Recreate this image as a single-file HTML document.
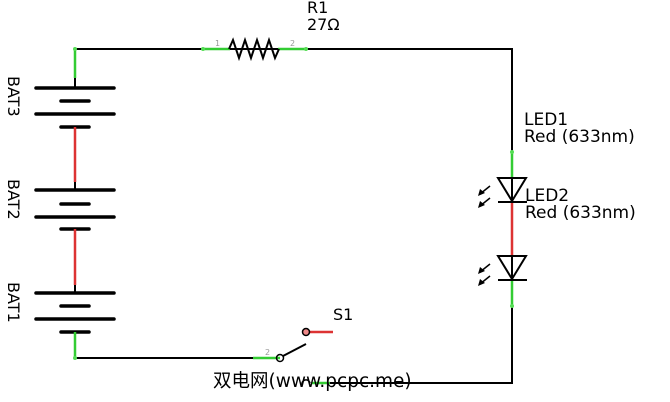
<!DOCTYPE html>
<html><head><meta charset="utf-8"><style>
html,body{margin:0;padding:0;background:#fff;width:670px;height:402px;overflow:hidden}
svg{display:block}
text{font-family:"DejaVu Sans","Liberation Sans",sans-serif}
</style></head><body>
<svg width="670" height="402" viewBox="0 0 670 402" xmlns="http://www.w3.org/2000/svg">
<g stroke="#000" stroke-width="2" fill="none">
<polyline points="75,49 512,49 512,383 330,383"/>
<polyline points="75,358 280,358"/>
</g>
<line x1="203" y1="49" x2="230" y2="49" stroke="#3c3" stroke-width="2.5"/>
<line x1="278" y1="49" x2="306" y2="49" stroke="#3c3" stroke-width="2.5"/>
<polyline points="229,49 233,40 239,58 245,40 251,58 257,40 263,58 269,40 275,58 279,49" stroke="#000" stroke-width="2" fill="none"/>
<circle cx="203" cy="49" r="2" fill="#5d5"/><circle cx="306" cy="49" r="2" fill="#5d5"/>
<text x="215" y="46" font-size="8" fill="#999">1</text>
<text x="290" y="46" font-size="8" fill="#999">2</text>
<text x="307" y="13" font-size="16">R1</text>
<text x="307" y="30" font-size="16">27Ω</text>
<g stroke="#000" stroke-width="3.5" stroke-linecap="round">
<line x1="36" y1="88" x2="114" y2="88"/><line x1="61" y1="101" x2="89" y2="101"/><line x1="36" y1="114" x2="114" y2="114"/><line x1="61" y1="127" x2="89" y2="127"/>
<line x1="36" y1="190" x2="114" y2="190"/><line x1="61" y1="204" x2="89" y2="204"/><line x1="36" y1="217" x2="114" y2="217"/><line x1="61" y1="229" x2="89" y2="229"/>
<line x1="36" y1="293" x2="114" y2="293"/><line x1="61" y1="306" x2="89" y2="306"/><line x1="36" y1="319" x2="114" y2="319"/><line x1="61" y1="332" x2="89" y2="332"/>
</g>
<g stroke-width="2.5">
<line x1="75" y1="49" x2="75" y2="78" stroke="#3c3"/>
<line x1="75" y1="78" x2="75" y2="88" stroke="#000" stroke-width="2"/>
<line x1="75" y1="127" x2="75" y2="182" stroke="#d33"/>
<line x1="75" y1="182" x2="75" y2="190" stroke="#000" stroke-width="2"/>
<line x1="75" y1="229" x2="75" y2="285" stroke="#d33"/>
<line x1="75" y1="285" x2="75" y2="293" stroke="#000" stroke-width="2"/>
<line x1="75" y1="332" x2="75" y2="358" stroke="#3c3"/>
</g>
<circle cx="75" cy="49" r="2" fill="#5d5"/><circle cx="75" cy="358" r="2" fill="#5d5"/>
<text font-size="16" transform="translate(8,76) rotate(90)">BAT3</text>
<text font-size="16" transform="translate(8,179) rotate(90)">BAT2</text>
<text font-size="16" transform="translate(8,282) rotate(90)">BAT1</text>
<line x1="512" y1="152" x2="512" y2="178" stroke="#3c3" stroke-width="2.5"/>
<line x1="512" y1="202" x2="512" y2="255" stroke="#d33" stroke-width="2.5"/>
<line x1="512" y1="280" x2="512" y2="306" stroke="#3c3" stroke-width="2.5"/>
<circle cx="512" cy="152" r="2" fill="#5d5"/><circle cx="512" cy="306" r="2" fill="#5d5"/>
<g stroke="#000" stroke-width="2" fill="none">
<polygon points="498,178 526,178 512,201"/><line x1="498" y1="202" x2="527" y2="202"/>
<polygon points="498,256 526,256 512,279"/><line x1="498" y1="280" x2="527" y2="280"/>
<g stroke-width="1.5">
<line x1="490" y1="186" x2="480" y2="194"/><line x1="490" y1="198" x2="480" y2="206"/>
<line x1="490" y1="264" x2="480" y2="272"/><line x1="490" y1="276" x2="480" y2="284"/>
</g>
</g>
<g fill="#000">
<polygon points="478,196 480,189 485,193"/><polygon points="478,208 480,201 485,205"/>
<polygon points="478,274 480,267 485,271"/><polygon points="478,286 480,279 485,283"/>
</g>
<text x="524" y="125" font-size="17">LED1</text>
<text x="524" y="142" font-size="17">Red (633nm)</text>
<text x="525" y="201" font-size="17">LED2</text>
<text x="525" y="218" font-size="17">Red (633nm)</text>
<line x1="253" y1="358" x2="280" y2="358" stroke="#3c3" stroke-width="2.5"/>
<line x1="306" y1="332" x2="333" y2="332" stroke="#d33" stroke-width="2.5"/>
<line x1="312" y1="383" x2="330" y2="383" stroke="#3c3" stroke-width="2.5"/>
<line x1="283" y1="356" x2="306" y2="344" stroke="#000" stroke-width="2"/>
<circle cx="280" cy="358" r="3.5" fill="none" stroke="#000" stroke-width="1.5"/>
<circle cx="306" cy="332" r="3.5" fill="#e88" stroke="#000" stroke-width="1.5"/>
<path d="M302,385 a4,4 0 0 1 8,-2" stroke="#000" stroke-width="1.5" fill="none"/>
<text x="333" y="320" font-size="16">S1</text>
<text x="265" y="355" font-size="8" fill="#999">2</text>
<text x="213" y="387" font-size="18.5" font-family="'DejaVu Sans','Noto Sans CJK SC',sans-serif">双电网(www.pcpc.me)</text>
</svg>
</body></html>
